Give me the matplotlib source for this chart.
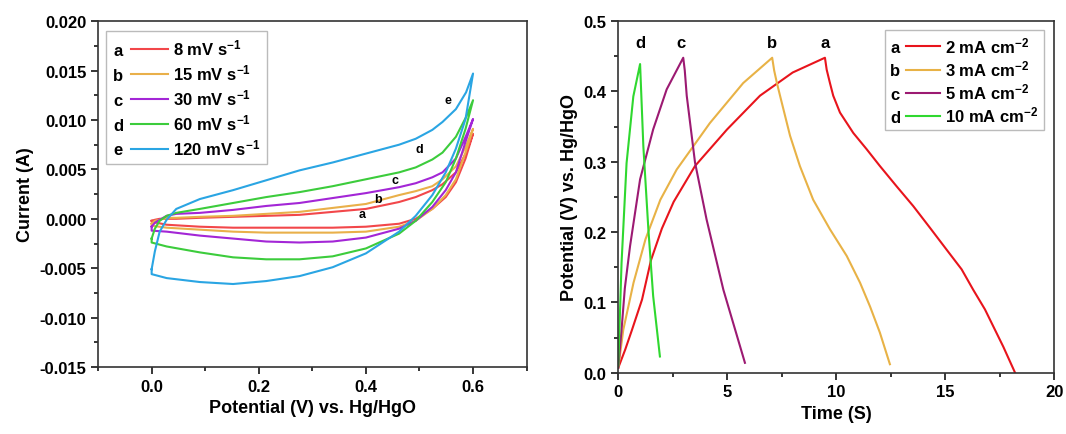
import matplotlib.pyplot as plt
import matplotlib.text as mtext
from matplotlib.lines import Line2D
from matplotlib.ticker import MultipleLocator

plt.rcParams['font.family'] = ['Liberation Sans', 'DejaVu Sans']
plt.rcParams['font.weight'] = 'bold'
plt.rcParams['axes.labelweight'] = 'bold'
plt.rcParams['mathtext.fontset'] = 'custom'
plt.rcParams['mathtext.rm'] = 'Liberation Sans:bold'
plt.rcParams['mathtext.it'] = 'Liberation Sans:bold'
plt.rcParams['mathtext.bf'] = 'Liberation Sans:bold'
plt.rcParams['mathtext.default'] = 'rm'

# ---- CV data (potential V vs. Hg/HgO, current A) ----
cv_letters = ['a', 'b', 'c', 'd', 'e']
cv_labels = ['8 mV s$^{-1}$', '15 mV s$^{-1}$', '30 mV s$^{-1}$', '60 mV s$^{-1}$', '120 mV s$^{-1}$']
cv_colors = ['#f2474a', '#e9b04a', '#a326d6', '#3ccc3c', '#2aa5e3']

v_fwd = [0.0, 0.006, 0.015, 0.028, 0.046, 0.09, 0.152, 0.214, 0.276, 0.338, 0.4,
         0.462, 0.493, 0.524, 0.543, 0.568, 0.587, 0.6]
v_rev = [0.6, 0.586, 0.568, 0.549, 0.524, 0.493, 0.462, 0.4, 0.338, 0.276, 0.214,
         0.152, 0.09, 0.028, 0.0]

i_fwd = {
    'a': [-0.0002, -0.0001, 0.0, 0.0, 0.0, 0.0001, 0.0002, 0.0003, 0.0004, 0.0007, 0.0010,
          0.0017, 0.0022, 0.0029, 0.0035, 0.0047, 0.0067, 0.0086],
    'b': [-0.0005, -0.0002, -0.0001, 0.0001, 0.0001, 0.0002, 0.0003, 0.0005, 0.0007, 0.0011, 0.0015,
          0.0024, 0.0028, 0.0033, 0.0040, 0.0053, 0.0074, 0.0091],
    'c': [-0.0008, -0.0004, -0.0001, 0.0003, 0.0005, 0.0006, 0.0009, 0.0013, 0.0016, 0.0021, 0.0026,
          0.0032, 0.0036, 0.0042, 0.0047, 0.0061, 0.0084, 0.0101],
    'd': [-0.0020, -0.0010, -0.0002, 0.0003, 0.0006, 0.0010, 0.0016, 0.0022, 0.0027, 0.0033, 0.0040,
          0.0047, 0.0052, 0.0060, 0.0067, 0.0083, 0.0103, 0.0120],
    'e': [-0.0051, -0.0033, -0.0013, -0.0001, 0.0010, 0.0020, 0.0029, 0.0039, 0.0049, 0.0057, 0.0066,
          0.0075, 0.0081, 0.0090, 0.0098, 0.0111, 0.0128, 0.0147],
}
i_rev = {
    'a': [0.0086, 0.0061, 0.0037, 0.0022, 0.0010, 0.0000, -0.0005, -0.0008, -0.0009, -0.0009, -0.0009,
          -0.0009, -0.0008, -0.0006, -0.0003],
    'b': [0.0091, 0.0067, 0.0040, 0.0024, 0.0010, -0.0002, -0.0008, -0.0013, -0.0014, -0.0014, -0.0014,
          -0.0013, -0.0011, -0.0009, -0.0007],
    'c': [0.0101, 0.0078, 0.0047, 0.0029, 0.0012, -0.0002, -0.0010, -0.0019, -0.0023, -0.0024, -0.0023,
          -0.0020, -0.0017, -0.0013, -0.0012],
    'd': [0.0120, 0.0091, 0.0061, 0.0037, 0.0017, -0.0002, -0.0015, -0.0030, -0.0038, -0.0041, -0.0041,
          -0.0039, -0.0034, -0.0028, -0.0024],
    'e': [0.0147, 0.0101, 0.0071, 0.0047, 0.0024, 0.0003, -0.0013, -0.0035, -0.0049, -0.0058, -0.0063,
          -0.0066, -0.0064, -0.0060, -0.0056],
}
cv_tag_x = [0.393, 0.423, 0.455, 0.50, 0.554]
cv_tag_y = [0.0005, 0.0020, 0.0039, 0.0071, 0.0120]

# ---- GCD data (time s, potential V) ----
gcd_letters = ['a', 'b', 'c', 'd']
gcd_labels = ['2 mA cm$^{-2}$', '3 mA cm$^{-2}$', '5 mA cm$^{-2}$', '10 mA cm$^{-2}$']
gcd_colors = ['#e8141c', '#e8b246', '#9c1a72', '#2fd82f']
gcd_t = {
    'a': [0.0, 0.32, 0.63, 1.09, 1.5, 2.0, 2.54, 3.52, 4.99, 6.5, 8.0, 9.48,
          9.56, 9.71, 9.86, 10.17, 10.78, 11.39, 12.0, 12.77, 13.53, 14.3, 15.06,
          15.75, 16.28, 16.82, 17.2, 17.66, 18.2],
    'b': [0.0, 0.23, 0.7, 1.25, 1.93, 2.68, 4.2, 5.73, 7.06,
          7.15, 7.27, 7.42, 7.88, 8.33, 8.94, 9.71, 10.48, 11.09, 11.55, 12.0, 12.46],
    'c': [0.0, 0.15, 0.3, 0.54, 1.0, 1.6, 2.22, 2.98,
          3.05, 3.14, 3.52, 4.05, 4.82, 5.81],
    'd': [0.0, 0.15, 0.38, 0.69, 1.0,
          1.15, 1.38, 1.6, 1.91],
}
gcd_v = {
    'a': [0.007, 0.033, 0.061, 0.104, 0.16, 0.205, 0.243, 0.294, 0.346, 0.394, 0.427, 0.448,
          0.431, 0.412, 0.394, 0.370, 0.341, 0.318, 0.294, 0.265, 0.237, 0.206, 0.175,
          0.147, 0.118, 0.090, 0.066, 0.037, 0.0],
    'b': [0.007, 0.061, 0.128, 0.19, 0.246, 0.289, 0.355, 0.412, 0.448,
          0.430, 0.413, 0.394, 0.337, 0.294, 0.246, 0.204, 0.166, 0.128, 0.094, 0.057, 0.012],
    'c': [0.007, 0.061, 0.12, 0.180, 0.275, 0.346, 0.403, 0.448,
          0.430, 0.394, 0.299, 0.218, 0.118, 0.014],
    'd': [0.01, 0.156, 0.298, 0.393, 0.439,
          0.322, 0.204, 0.109, 0.023],
}
gcd_tag_x = [9.47, 7.04, 2.9, 1.03]


class LetterHandler:
    def __init__(self, letter):
        self.letter = letter

    def legend_artist(self, legend, orig_handle, fontsize, handlebox):
        x0, y0 = handlebox.xdescent, handlebox.ydescent
        w, h = handlebox.width, handlebox.height
        t = mtext.Text(x0, y0 + h / 2 - 1, self.letter, ha='left', va='center',
                       fontsize=fontsize, fontweight='bold',
                       transform=handlebox.get_transform())
        ln = Line2D([x0 + 0.32 * w, x0 + w], [y0 + h / 2, y0 + h / 2],
                    color=orig_handle.get_color(), lw=1.5,
                    transform=handlebox.get_transform())
        handlebox.add_artist(t)
        handlebox.add_artist(ln)
        return ln


fig = plt.figure(figsize=(10.66, 4.35), dpi=100)
ax1 = fig.add_axes([0.092, 0.154, 0.402, 0.795])
ax2 = fig.add_axes([0.580, 0.141, 0.409, 0.808])

handles = []
for k, letter in enumerate(cv_letters):
    xs = v_fwd + v_rev + [v_fwd[0]]
    ys = i_fwd[letter] + i_rev[letter] + [i_fwd[letter][0]]
    h, = ax1.plot(xs, ys, color=cv_colors[k], lw=1.5)
    handles.append(h)
    ax1.text(cv_tag_x[k], cv_tag_y[k], letter, fontsize=9, fontweight='bold',
             ha='center', va='center')

ax1.set_xlim(-0.1, 0.7)
ax1.set_ylim(-0.015, 0.020)
ax1.xaxis.set_major_locator(MultipleLocator(0.2))
ax1.xaxis.set_minor_locator(MultipleLocator(0.1))
ax1.yaxis.set_major_locator(MultipleLocator(0.005))
ax1.yaxis.set_minor_locator(MultipleLocator(0.0025))
ax1.yaxis.set_major_formatter(plt.FormatStrFormatter('%.3f'))
ax1.set_xlabel('Potential (V) vs. Hg/HgO', fontsize=13)
ax1.set_ylabel('Current (A)', fontsize=13)
ax1.legend(handles, cv_labels, loc='upper left', fontsize=12,
           handler_map={h: LetterHandler(l) for h, l in zip(handles, cv_letters)},
           handlelength=3.3, handletextpad=0.3, labelspacing=0.3,
           borderpad=0.4, fancybox=False, edgecolor='#aaaaaa',
           bbox_to_anchor=(0.0, 0.995))

handles2 = []
for k, letter in enumerate(gcd_letters):
    h, = ax2.plot(gcd_t[letter], gcd_v[letter], color=gcd_colors[k], lw=1.5)
    handles2.append(h)
    ax2.text(gcd_tag_x[k], 0.469, letter, fontsize=12, fontweight='bold',
             ha='center', va='center')

ax2.set_xlim(0, 20)
ax2.set_ylim(0, 0.5)
ax2.xaxis.set_major_locator(MultipleLocator(5))
ax2.xaxis.set_minor_locator(MultipleLocator(2.5))
ax2.yaxis.set_major_locator(MultipleLocator(0.1))
ax2.yaxis.set_minor_locator(MultipleLocator(0.05))
ax2.set_xlabel('Time (S)', fontsize=13)
ax2.set_ylabel('Potential (V) vs. Hg/HgO', fontsize=13)
ax2.legend(handles2, gcd_labels, loc='upper right', fontsize=12,
           handler_map={h: LetterHandler(l) for h, l in zip(handles2, gcd_letters)},
           handlelength=3.0, handletextpad=0.3, labelspacing=0.2,
           borderpad=0.3, fancybox=False, edgecolor='#aaaaaa',
           bbox_to_anchor=(0.995, 0.998))

for ax in (ax1, ax2):
    for s in ax.spines.values():
        s.set_linewidth(1.2)
        s.set_color('#333333')
    ax.tick_params(which='both', direction='out', top=False, right=False,
                   labelsize=12, width=1.1)
    ax.tick_params(which='major', length=5)
    ax.tick_params(which='minor', length=3)
    for lab in ax.get_xticklabels() + ax.get_yticklabels():
        lab.set_fontweight('bold')

fig.savefig('out.png', dpi=100)
